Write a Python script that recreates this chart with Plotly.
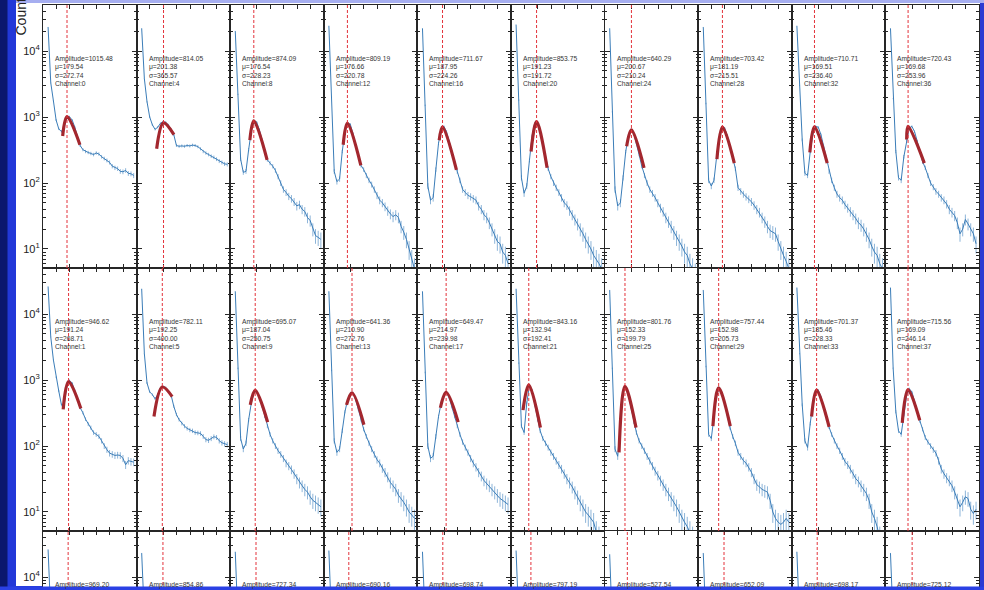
import plotly.graph_objects as go

W, H = 984, 590

# ---------------- data ----------------
X = [38, 58, 78, 98, 118, 138, 158, 178, 198, 218, 238, 258, 278, 298, 318, 338, 358,
     378, 398, 418, 438, 458, 478, 498, 518, 538, 558, 578, 598, 618, 638, 658, 678]

ROW1_CH = [0, 4, 8, 12, 16, 20, 24, 28, 32, 36]
ROW1_AMP = [1015.48, 814.05, 874.09, 809.19, 711.67, 853.75, 640.29, 703.42, 710.71, 720.43]
ROW1_MU = [179.54, 201.38, 176.54, 176.66, 187.95, 191.23, 200.67, 181.19, 169.51, 169.68]
ROW1_SIG = [272.74, 365.57, 228.23, 220.78, 224.26, 191.72, 210.24, 215.51, 236.40, 253.96]

ROW2_CH = [1, 5, 9, 13, 17, 21, 25, 29, 33, 37]
ROW2_AMP = [946.62, 782.11, 695.07, 641.36, 649.47, 843.16, 801.76, 757.44, 701.37, 715.56]
ROW2_MU = [191.24, 192.25, 187.04, 210.90, 214.97, 132.94, 152.33, 152.98, 185.46, 169.09]
ROW2_SIG = [268.71, 400.00, 250.75, 272.76, 239.98, 192.41, 199.79, 205.73, 228.33, 246.14]

ROW3_AMP = [969.20, 854.86, 727.34, 690.16, 698.74, 797.19, 527.54, 652.09, 698.17, 725.12]
ROW3_MU = [188, 197, 193, 187, 190, 149, 170, 193, 190, 200]

ch0 = [23000, 3300, 1750, 900, 660, 600, 720, 950, 1010, 900, 700, 500, 370, 320, 300, 290, 280,
       270, 285, 275, 250, 235, 220, 205, 180, 170, 165, 150, 148, 155, 140, 138, 130]
ch4 = [22000, 3800, 1700, 1000, 760, 650, 700, 800, 850, 830, 760, 650, 540, 370, 360, 365, 360,
       370, 365, 375, 370, 355, 330, 300, 285, 270, 255, 245, 230, 215, 205, 195, 192]
ch8 = [20000, 2200, 230, 145, 150, 320, 620, 860, 840, 640, 450, 310, 225, 200, 180, 155, 125,
       100, 80, 72, 63, 58, 52, 45, 47, 40, 37, 30, 27, 20, 16, 15, 14]
ch12 = [24000, 2000, 150, 105, 115, 300, 600, 810, 780, 560, 380, 260, 185, 160, 130, 110, 95,
        80, 65, 55, 50, 44, 38, 34, 31, 33, 30, 22, 18, 14, 10, 7, 5]
ch16 = [22000, 1500, 90, 55, 60, 160, 400, 650, 720, 600, 420, 290, 200, 150, 110, 80, 72,
        65, 62, 58, 55, 45, 40, 33, 30, 25, 20, 16, 13, 12, 9, 8, 6]
ch20 = [25000, 1800, 120, 70, 90, 220, 520, 800, 830, 620, 400, 250, 165, 125, 100, 85, 72,
        60, 50, 46, 38, 33, 28, 24, 20, 17, 14, 12, 10, 8, 7, 6, 5]
ch24 = [22000, 1200, 80, 45, 50, 120, 300, 520, 630, 560, 400, 270, 180, 130, 100, 80, 70,
        60, 50, 42, 37, 30, 26, 22, 18, 15, 13, 11, 9, 8, 6, 5, 4]
ch28 = [23000, 1600, 110, 90, 110, 250, 480, 690, 680, 520, 350, 230, 165, 85, 75, 68, 62,
        57, 52, 46, 40, 36, 30, 26, 22, 19, 18, 17, 13, 10, 8, 6.5, 5]
ch32 = [24000, 3000, 450, 140, 130, 300, 550, 720, 700, 540, 360, 230, 150, 110, 85, 68, 60,
        55, 47, 42, 37, 33, 29, 25, 23, 20, 17, 14, 11, 9, 8, 6, 5]
ch36 = [22000, 1900, 300, 120, 110, 250, 440, 680, 720, 600, 430, 300, 210, 170, 130, 100, 87,
        75, 68, 60, 55, 48, 40, 36, 32, 25, 17, 20, 28, 24, 20, 17, 12]

ch1 = [26000, 4500, 2000, 1100, 680, 420, 420, 800, 990, 900, 700, 520, 380, 320, 255, 215, 190,
       160, 150, 140, 120, 100, 88, 78, 75, 72, 73, 72, 65, 52, 60, 58, 57]
ch5 = [24000, 2500, 900, 660, 600, 520, 600, 760, 800, 770, 680, 590, 400, 300, 250, 220, 200,
       185, 175, 170, 160, 158, 155, 140, 125, 122, 130, 138, 135, 120, 112, 108, 105]
ch9 = [22000, 1500, 130, 90, 110, 250, 450, 650, 680, 560, 400, 280, 200, 150, 120, 100, 85,
       75, 65, 55, 50, 44, 38, 32, 28, 25, 22, 20, 17, 15, 14, 13, 12]
ch13 = [22000, 1400, 120, 80, 90, 170, 330, 500, 620, 630, 500, 360, 250, 180, 140, 110, 90,
        75, 62, 55, 46, 40, 34, 28, 25, 22, 18, 16, 14, 12, 10, 9, 8]
ch17 = [22000, 1300, 100, 65, 70, 140, 280, 450, 600, 640, 530, 390, 280, 200, 150, 115, 95,
        80, 65, 55, 48, 40, 35, 30, 27, 25, 22, 20, 18, 16, 15, 14, 13]
ch21 = [24000, 1800, 200, 160, 450, 820, 700, 420, 250, 170, 130, 110, 95, 80, 70, 60, 52,
        45, 38, 32, 28, 24, 20, 17, 14, 12, 10, 9, 8, 7, 5, 4, 3]
ch25 = [23000, 1500, 90, 70, 250, 650, 780, 600, 380, 230, 160, 120, 100, 85, 70, 60, 50,
        42, 36, 30, 26, 22, 19, 16, 14, 12, 10, 8, 7, 6, 5, 4, 3]
ch29 = [23000, 1600, 150, 130, 300, 600, 750, 620, 430, 280, 190, 140, 110, 80, 70, 60, 55,
        48, 40, 32, 26, 24, 22, 21, 20, 15, 10, 8, 7, 6.5, 7, 8, 7]
ch33 = [25000, 2500, 420, 120, 95, 220, 450, 680, 700, 560, 380, 260, 195, 150, 120, 100, 85,
        70, 58, 52, 45, 38, 32, 29, 25, 22, 19, 15, 10, 8, 6, 4, 3]
ch37 = [25000, 1500, 330, 170, 150, 300, 560, 740, 660, 480, 330, 240, 180, 135, 115, 100, 88,
        78, 60, 45, 38, 33, 30, 25, 20, 15, 12, 14, 17, 16, 11, 9.5, 11]

ROW1_COUNTS = [ch0, ch4, ch8, ch12, ch16, ch20, ch24, ch28, ch32, ch36]
ROW2_COUNTS = [ch1, ch5, ch9, ch13, ch17, ch21, ch25, ch29, ch33, ch37]

# row 3 (only the top of the first bins is visible)
X3 = [38, 58, 78]
ROW3_COUNTS = [[26000, 3000, 300], [23000, 2800, 300], [24000, 2000, 200], [25000, 2200, 200],
               [24000, 2000, 200], [25000, 2000, 200], [22000, 1500, 150], [23000, 1800, 150],
               [24000, 2200, 200], [23000, 2000, 200]]

# Gaussian fit segments (start point, peak = (mu, amplitude), end point)
ROW1_FIT_X0 = [147, 150, 147, 145, 163, 150, 165, 140, 135, 159]
ROW1_FIT_Y0 = [515, 330, 445, 380, 445, 300, 360, 230, 290, 457]
ROW1_FIT_X1 = [276, 279, 276, 277, 292, 270, 295, 270, 265, 291]
ROW1_FIT_Y1 = [380, 540, 224, 185, 158, 170, 170, 200, 200, 200]
ROW2_FIT_X0 = [151, 130, 150, 170, 172, 90, 108, 110, 148, 126]
ROW2_FIT_Y0 = [360, 280, 420, 420, 380, 350, 80, 200, 280, 224]
ROW2_FIT_X1 = [283, 266, 280, 300, 305, 220, 235, 240, 279, 257]
ROW2_FIT_Y1 = [370, 560, 230, 210, 230, 190, 190, 200, 195, 245]

# ---------------- layout geometry ----------------
LEFT, COLW = 43.0, 93.6
ROW_TOP = [5, 268, 531]
ROW_BOT = [268, 531, 590]
YR_FULL = [0.712, 4.697]
YR_ROW3 = [4.697 - 59 / 66, 4.697]
TEXT_DY = [54, 62, 70, 78]   # line centres below each row top (px)

BLUE = "#3b7db8"
FITRED = "#a3272e"
DASHRED = "#e3333b"
FRAME = "#262626"

fig = go.Figure()
layout = {}
shapes = []
annotations = []

major_vals = [10, 100, 1000, 10000]
major_text = ["10<sup>1</sup>", "10<sup>2</sup>", "10<sup>3</sup>", "10<sup>4</sup>"]
minor_vals = [m * 10 ** e for e in range(0, 5) for m in range(2, 10)]

for r in range(3):
    for c in range(10):
        n = r * 10 + c + 1
        xa = "x" if n == 1 else f"x{n}"
        ya = "y" if n == 1 else f"y{n}"
        x0p = LEFT + c * COLW
        x1p = x0p + COLW
        dom_x = [x0p / W, x1p / W]
        dom_y = [1 - ROW_BOT[r] / H, 1 - ROW_TOP[r] / H]

        xaxis = dict(domain=dom_x, anchor=ya, range=[0, 700], showline=True, linecolor=FRAME,
                     linewidth=1.2, ticks="inside", ticklen=4, tickcolor=FRAME, tickwidth=1,
                     dtick=100, tick0=0, showticklabels=False, showgrid=False, zeroline=False)
        if r < 2:
            xaxis["mirror"] = "ticks"
        else:
            xaxis["side"] = "top"
            xaxis["mirror"] = False
        yaxis = dict(domain=dom_y, anchor=xa, type="log",
                     range=YR_FULL if r < 2 else YR_ROW3,
                     showline=True, linecolor=FRAME, linewidth=1.2, mirror="ticks",
                     ticks="inside", ticklen=5, tickcolor=FRAME, tickwidth=1,
                     tickmode="array", tickvals=major_vals, ticktext=major_text,
                     minor=dict(tickmode="array", tickvals=minor_vals, ticks="inside",
                                ticklen=2.5, tickcolor=FRAME, showgrid=False),
                     showgrid=False, zeroline=False,
                     showticklabels=(c == 0),
                     tickfont=dict(family="Liberation Sans", size=11, color="#222"))
        layout["xaxis" if n == 1 else f"xaxis{n}"] = xaxis
        layout["yaxis" if n == 1 else f"yaxis{n}"] = yaxis

        if r < 2:
            counts = (ROW1_COUNTS if r == 0 else ROW2_COUNTS)[c]
            xs = X
            amp = (ROW1_AMP if r == 0 else ROW2_AMP)[c]
            mu = (ROW1_MU if r == 0 else ROW2_MU)[c]
            sig = (ROW1_SIG if r == 0 else ROW2_SIG)[c]
            ch = (ROW1_CH if r == 0 else ROW2_CH)[c]
            fx0 = (ROW1_FIT_X0 if r == 0 else ROW2_FIT_X0)[c]
            fy0 = (ROW1_FIT_Y0 if r == 0 else ROW2_FIT_Y0)[c]
            fx1 = (ROW1_FIT_X1 if r == 0 else ROW2_FIT_X1)[c]
            fy1 = (ROW1_FIT_Y1 if r == 0 else ROW2_FIT_Y1)[c]
            lines = [f"Amplitude={amp:.2f}", f"\u03bc={mu:.2f}", f"\u03c3={sig:.2f}",
                     f"Channel:{ch}"]
        else:
            counts = ROW3_COUNTS[c]
            xs = X3
            amp = ROW3_AMP[c]
            mu = ROW3_MU[c]
            lines = [f"Amplitude={amp:.2f}"]

        fig.add_trace(go.Scatter(
            x=xs, y=counts, xaxis=xa, yaxis=ya, mode="lines",
            line=dict(color=BLUE, width=1),
            error_y=dict(type="data", array=[v ** 0.5 for v in counts], color="#5b95c8",
                         thickness=0.7, width=0),
            showlegend=False, hoverinfo="skip"))

        if r < 2:
            fig.add_trace(go.Scatter(
                x=[fx0, mu, fx1], y=[fy0, amp, fy1], xaxis=xa, yaxis=ya, mode="lines",
                line=dict(color=FITRED, width=3.2, shape="spline"),
                showlegend=False, hoverinfo="skip"))

        shapes.append(dict(type="line", xref=xa, yref=f"{ya} domain", x0=mu, x1=mu,
                           y0=0, y1=1, line=dict(color=DASHRED, width=1, dash="3px,2px"),
                           layer="above"))

        for i, t in enumerate(lines):
            annotations.append(dict(
                x=(x0p + 10) / W, y=1 - (ROW_TOP[r] + TEXT_DY[i]) / H,
                xref="paper", yref="paper", xanchor="left", yanchor="middle",
                align="left", showarrow=False, text=t,
                font=dict(family="Liberation Sans", size=6.7, color="#333")))

# y-axis title
annotations.append(dict(x=21 / W, y=1 + 3 / H, xref="paper", yref="paper", text="Count",
                        textangle=-90, xanchor="center", yanchor="top", showarrow=False,
                        font=dict(family="Liberation Sans", size=14, color="#222")))


def rect(x0, y0, x1, y1, color, layer="below"):
    return dict(type="rect", xref="paper", yref="paper", x0=x0 / W, x1=x1 / W,
                y0=1 - y1 / H, y1=1 - y0 / H, fillcolor=color, line=dict(width=0),
                layer=layer)


shapes = [
    rect(16, 3, 980, 586, "white"),
    rect(0, 0, 7.5, 590, "#0b176e"),
    rect(16, 0, 984, 3, "#a6aef0"),
] + shapes + [
    rect(0, 586.5, 984, 590, "#2a40e4", layer="above"),
    rect(980, 3, 984, 586, "#2b3bd2", layer="above"),
]

fig.update_layout(**layout)
fig.update_layout(width=W, height=H, margin=dict(l=0, r=0, t=0, b=0),
                  paper_bgcolor="#2238d8", plot_bgcolor="white",
                  shapes=shapes, annotations=annotations, showlegend=False)

fig.write_html("out.html")
